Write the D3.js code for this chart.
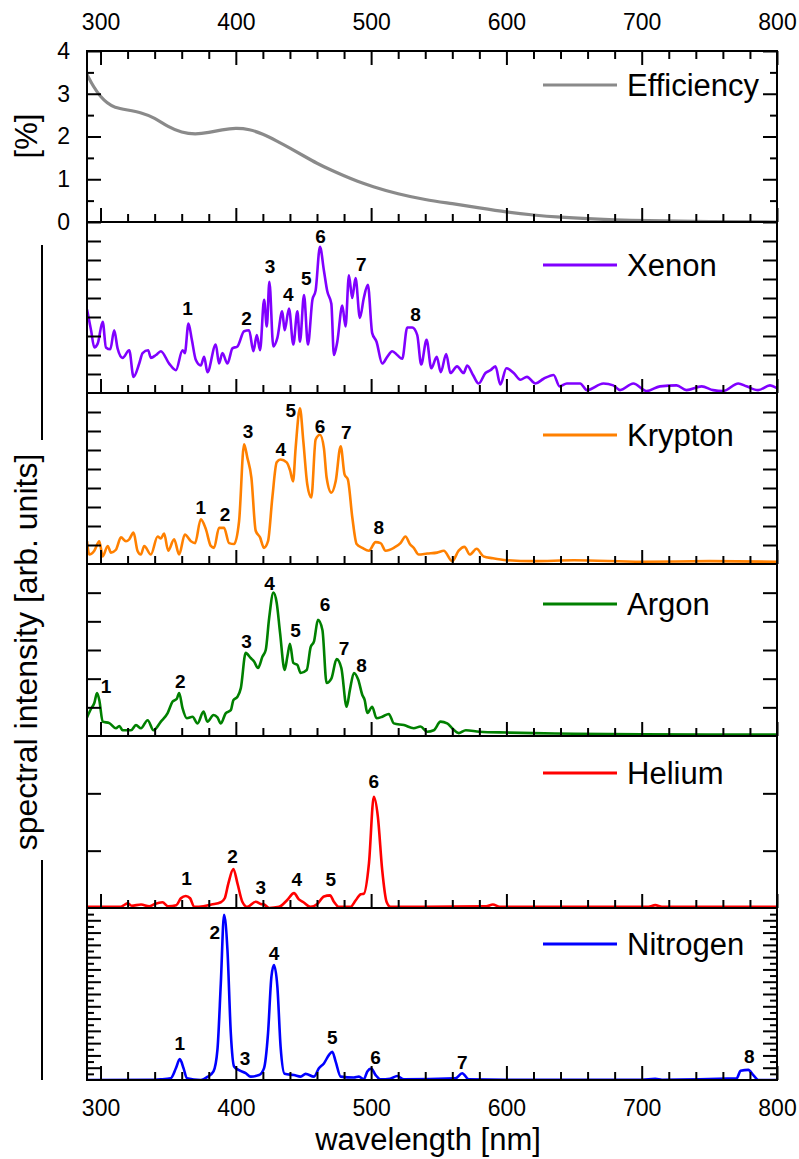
<!DOCTYPE html>
<html><head><meta charset="utf-8">
<script src="https://cdn.jsdelivr.net/npm/d3@7"></script>
<style>body{margin:0;background:#fff}svg{display:block}</style>
</head><body><svg id="c" width="799" height="1159"></svg>
<script>
// ---------------- data ----------------
const xMajorTicks = [300, 400, 500, 600, 700, 800];
const xMinorTicks = [320, 340, 360, 380, 420, 440, 460, 480, 520, 540, 560, 580, 620, 640, 660, 680, 720, 740, 760, 780];
const effMajorTicks = [0, 1, 2, 3, 4];
const effMinorTicks = [0.5, 1.5, 2.5, 3.5];
const seriesNames = ["Efficiency", "Xenon", "Krypton", "Argon", "Helium", "Nitrogen"];

const efficiency = [[290,3.45],[295,3.15],[300,2.93],[305,2.78],[310,2.68],[320,2.62],[330,2.56],[340,2.44],[350,2.22],[360,2.09],[370,2.05],[380,2.09],[390,2.16],[400,2.2],[410,2.17],[420,2.06],[430,1.9],[440,1.73],[450,1.55],[460,1.37],[470,1.22],[480,1.08],[490,0.95],[500,0.84],[520,0.65],[540,0.52],[560,0.43],[580,0.33],[600,0.23],[620,0.16],[640,0.11],[660,0.075],[680,0.05],[700,0.03],[750,0.01],[800,0]];

const xenon = [[290,4.4],[293,3.3],[295.4,2.4],[297.9,2.6],[301.6,3.75],[304,2.4],[307.2,2.3],[310.1,3.3],[312.6,2.35],[316.3,1.85],[321.2,2.25],[324.4,0.85],[328.6,1.55],[331.1,2.1],[335.2,2.25],[337.2,1.85],[341,2.0],[344.6,2.2],[350.7,1.55],[355.7,1.2],[360.6,2.25],[362.3,2.1],[365,3.65],[367.5,2.8],[370.4,1.75],[374.1,1.45],[376.6,1.9],[379,1.1],[385.2,2.55],[387.6,1.55],[390.1,2.1],[393.8,1.55],[397.5,2.35],[401.2,2.45],[406.1,3.25],[409.8,3.3],[413,2.2],[415.5,3.05],[417.9,2.25],[420.9,4.9],[422.9,3.5],[424.8,5.85],[427.7,2.45],[430.7,2.9],[434.3,4.3],[436.1,3.3],[439.3,4.45],[442.5,2.55],[445.5,4.3],[447.4,2.7],[450.4,5.15],[453.3,2.55],[456.6,4.9],[459,5.4],[462.2,7.7],[465.1,6.45],[467.6,5.35],[470.6,4.7],[472.5,2.0],[475,2.7],[478.7,4.6],[481.1,3.5],[483.6,6.2],[486,5.0],[488.5,6.05],[491.7,3.95],[494.6,5.0],[497.6,5.7],[500.8,3.15],[504,2.7],[508.2,1.55],[511.9,1.9],[515.6,2.2],[519.3,2.0],[523,1.8],[526.7,3.45],[530.4,3.45],[534.1,3.05],[537,1.5],[541,2.8],[544.5,1.3],[548.5,1.9],[551.5,1.1],[555.5,2.05],[558.6,1.05],[563.5,1.4],[568.4,1.05],[571,1.45],[575.3,0.95],[579.5,0.5],[584.5,1.05],[588.2,1.2],[591.9,1.4],[595.5,0.45],[600,1.3],[605.4,1.05],[610.3,0.7],[615.2,0.85],[621.4,0.5],[627.5,0.75],[634.9,0.95],[639.3,0.35],[644.7,0.5],[654.5,0.5],[659.5,0.15],[671.7,0.5],[679,0.4],[684,0.15],[693.8,0.5],[703.6,0.1],[713.5,0.35],[725.8,0.4],[733.1,0.15],[744.3,0.35],[752.8,0.15],[760.2,0.1],[771.4,0.5],[777.4,0.35],[786,0.15],[794.8,0.4],[800,0.25]];

const krypton = [[290,1.2],[291.7,0.5],[295.4,0.7],[299.1,1.2],[301.6,0.4],[305.3,0.95],[307.7,0.6],[311.4,0.75],[315.1,1.4],[318.8,1.2],[321.2,1.3],[324.4,1.65],[327.3,0.7],[329.8,0.5],[332.3,0.95],[337.2,0.5],[342.2,1.45],[344.6,1.35],[347,1.6],[350,0.7],[354.4,1.3],[358.1,0.5],[362.3,1.55],[366.8,1.2],[369.9,1.1],[374.1,2.35],[377.8,1.85],[381.5,0.95],[383.9,0.85],[387.6,1.9],[391.3,1.9],[395,1.1],[398.7,1.05],[402.4,2.25],[406.1,6.3],[408.5,5.6],[411.5,4.55],[414.7,1.75],[417.9,1.4],[420.8,0.85],[423.8,1.2],[427,3.5],[430.2,5.35],[433.1,5.5],[437.6,5.35],[440,4.95],[442.3,4.35],[444.2,6.1],[447.4,8.2],[449.9,6.45],[452.8,4.2],[455.8,3.5],[459,6.55],[462.2,6.8],[465.1,6.1],[467.1,4.55],[470.6,3.75],[473.8,4.35],[477.5,6.2],[480.4,4.7],[482.8,4.45],[486.1,2.45],[489.3,1.05],[493.5,0.85],[498.4,0.7],[503.3,1.15],[507,1.1],[510.7,0.7],[516.8,0.85],[521.7,1.1],[525.4,1.45],[528.6,1.05],[531.5,0.85],[535.2,0.5],[541.4,0.55],[548.8,0.6],[553.7,0.7],[559.9,0.15],[564.7,0.7],[569,0.9],[573,0.5],[578,0.8],[583,0.4],[590,0.3],[600,0.2],[620,0.15],[650,0.2],[700,0.12],[750,0.15],[800,0.12]];

const argon = [[290,0.65],[293,0.95],[295.4,1.15],[297.4,1.5],[299.1,1.25],[301.6,0.5],[306.5,0.45],[311.4,0.27],[313.9,0.35],[316.3,0.2],[322.5,0.2],[326.2,0.38],[329.9,0.27],[334.8,0.55],[339.2,0.2],[344.6,0.5],[349.6,0.8],[353.3,1.2],[356.4,1.3],[358.1,1.5],[360.6,0.97],[363.8,0.62],[368,0.67],[371.7,0.44],[376.1,0.85],[379,0.5],[383.5,0.73],[386.4,0.65],[388.9,0.44],[392.6,0.8],[396.3,0.9],[398.2,1.25],[401.2,1.37],[403.7,1.67],[407.3,2.9],[411,2.72],[413.5,2.6],[416.4,2.37],[419.7,2.77],[422.1,3.0],[424.6,4.1],[427.8,5.0],[430.2,4.65],[432.7,3.6],[436.1,2.3],[438.1,2.77],[440,3.22],[442.5,2.55],[445.5,2.48],[447.9,2.2],[452.4,2.3],[455.3,3.1],[457.8,3.3],[460.7,4.05],[464,3.7],[467.1,1.85],[470.6,2.0],[474.5,2.68],[478,2.37],[481.9,1.02],[484.3,1.6],[487.3,2.2],[490.5,1.96],[493.5,1.43],[495.2,1.26],[497.2,0.8],[500.8,1.02],[504,0.62],[508.2,0.67],[513.1,0.77],[516.8,0.44],[524.2,0.38],[531.5,0.27],[536.5,0.33],[541.4,0.15],[546.3,0.2],[551.3,0.5],[556.2,0.44],[559.9,0.27],[564.7,0.1],[570,0.2],[580,0.15],[600,0.12],[620,0.1],[650,0.08],[700,0.06],[750,0.05],[800,0.05]];

const helium = [[290,0.02],[315,0.02],[318,0.06],[320,0.08],[323,0.04],[330,0.06],[336,0.03],[340,0.07],[345.8,0.1],[350,0.03],[356,0.05],[359.4,0.17],[363,0.21],[366.2,0.17],[369.2,0.02],[376,0.03],[382,0.06],[388.9,0.1],[391.8,0.17],[394.5,0.43],[398.2,0.68],[401.2,0.43],[404.8,0.11],[408.5,0.02],[414.7,0.11],[418.4,0.07],[421,0.06],[424.6,0.0],[432,0.02],[438,0.14],[443,0.26],[446.6,0.15],[450,0.1],[455.3,0.02],[460.2,0.07],[465.1,0.2],[469.6,0.22],[472.5,0.11],[476.2,0.02],[484.8,0.02],[488.5,0.13],[492.3,0.24],[494.6,0.25],[498.4,0.78],[502,1.94],[505,1.59],[508.2,0.66],[511.4,0.11],[514.4,0.02],[540,0.02],[585,0.03],[590,0.06],[595,0.02],[660,0.02],[705,0.02],[710,0.05],[715,0.02],[800,0.02]];

const nitrogen = [[290,0],[340,0.05],[344.6,0.1],[352,0.3],[355.7,1.9],[358.6,3.4],[361.4,1.9],[363.8,0.3],[374.1,0],[379,0.5],[383.5,1.4],[386.4,4.9],[388.9,15.7],[391.3,26.9],[393.8,21.2],[396.3,7.6],[398.7,2.2],[402.4,1.6],[407.3,1.1],[411,0.55],[417.2,0.8],[420.8,1.9],[423.8,7.6],[426.3,16.8],[428.2,18.7],[430.7,15.2],[433.1,5.4],[436.1,1.0],[443,0.8],[447.9,0.55],[451.6,1.0],[457.8,0.55],[461.4,1.9],[465.1,2.7],[468.9,4.1],[471.3,4.6],[473.8,3.0],[477.5,0.55],[487.3,0.4],[491,0.55],[494.6,0.1],[497.2,1.4],[500.1,1.85],[503.3,0.8],[507,0.1],[514,0.2],[519.3,0.65],[524.2,0.1],[562.3,0.27],[567.3,1.1],[572.2,0.1],[600,0.05],[700,0.05],[710,0.2],[715,0.05],[770.2,0.27],[773.1,1.5],[778.8,1.65],[782.5,0.8],[786.2,0],[800,0]];

// peak label anchor points [wavelength, value]; label text = index + 1
const xenonPeaks = [[364.3,4.1],[407.9,3.58],[425.3,6.3],[438.8,4.84],[452.1,5.68],[462.7,7.88],[492.7,6.42],[532.8,3.79]];
const kryptonPeaks = [[374.1,2.62],[392.1,2.26],[409,6.65],[433.2,5.68],[440.6,7.74],[462.2,6.91],[481.7,6.56],[505.7,1.6]];
const argonPeaks = [[304,1.49],[358.9,1.69],[407.9,3.07],[425,5.08],[444.2,3.45],[465.9,4.35],[480,2.81],[493,2.25]];
const heliumPeaks = [[363.6,0.4],[397.5,0.79],[418.4,0.24],[445,0.38],[470.1,0.38],[502,2.1]];
const nitrogenPeaks = [[358.6,4.89],[384.5,22.96],[406.8,2.44],[428.2,19.5],[471.3,5.86],[503.3,2.6],[567.3,1.74],[779.5,2.82]];

// ---------------- layout & style ----------------
const FONT = "'Liberation Sans', Arial, Helvetica, sans-serif";
const L = 87, R = 777;
const tops = [51, 222, 393, 564, 736, 908], BOTTOM = 1080;
const panels = [
  {data: efficiency, color: "#8a8a8a", ymax: 4, peaks: null, legY: 85},
  {data: xenon, color: "#8000ff", ymax: 9, peaks: xenonPeaks, legY: 265},
  {data: krypton, color: "#ff8000", ymax: 9, peaks: kryptonPeaks, legY: 435},
  {data: argon, color: "#008000", ymax: 6, peaks: argonPeaks, legY: 604},
  {data: helium, color: "#ff0000", ymax: 3, peaks: heliumPeaks, legY: 773},
  {data: nitrogen, color: "#0000ff", ymax: 28, peaks: nitrogenPeaks, legY: 944}
];

const svg = d3.select("#c");
const x = d3.scaleLinear().domain([290, 800]).range([L, R]);
const defs = svg.append("defs");

panels.forEach((p, i) => {
  const top = tops[i], bot = i < 5 ? tops[i + 1] : BOTTOM;
  const y = d3.scaleLinear().domain([0, p.ymax]).range([bot, top]);
  const g = svg.append("g");
  defs.append("clipPath").attr("id", "clip" + i)
    .append("rect").attr("x", L).attr("y", top).attr("width", R - L).attr("height", bot - top);

  const line = d3.line().x(d => x(d[0])).y(d => y(d[1]))
    .curve(i === 0 ? d3.curveBasis : d3.curveMonotoneX);
  g.append("path").datum(p.data).attr("d", line)
    .attr("clip-path", `url(#clip${i})`)
    .attr("fill", "none").attr("stroke", p.color)
    .attr("stroke-width", i === 0 ? 3.2 : 2.6).attr("stroke-linejoin", "round");

  let majV, minV;
  if (i === 0) { majV = effMajorTicks; minV = effMinorTicks; }
  else if (i === 5) { majV = d3.range(2, 28, 2); minV = d3.range(1, 28, 2); }
  else { majV = d3.range(1, p.ymax); minV = []; }
  const axL = g.append("g").attr("transform", `translate(${L},0)`)
    .call(d3.axisLeft(y).tickValues(majV).tickSizeInner(-14).tickSizeOuter(0).tickPadding(17)
      .tickFormat(i === 0 ? d => String(d) : () => ""));
  const axLm = g.append("g").attr("transform", `translate(${L},0)`)
    .call(d3.axisLeft(y).tickValues(minV).tickSizeInner(-7).tickSizeOuter(0).tickFormat(() => ""));
  const axR = g.append("g").attr("transform", `translate(${R},0)`)
    .call(d3.axisRight(y).tickValues(majV).tickSizeInner(-14).tickSizeOuter(0).tickFormat(() => ""));
  const axRm = g.append("g").attr("transform", `translate(${R},0)`)
    .call(d3.axisRight(y).tickValues(minV).tickSizeInner(-7).tickSizeOuter(0).tickFormat(() => ""));

  const axB = g.append("g").attr("transform", `translate(0,${bot})`)
    .call(d3.axisBottom(x).tickValues(xMajorTicks).tickSizeInner(-14).tickSizeOuter(0).tickPadding(20)
      .tickFormat(i === 5 ? d => String(d) : () => ""));
  const axBm = g.append("g").attr("transform", `translate(0,${bot})`)
    .call(d3.axisBottom(x).tickValues(xMinorTicks).tickSizeInner(-8).tickSizeOuter(0).tickFormat(() => ""));
  const axes = [axL, axLm, axR, axRm, axB, axBm];
  if (i === 0) {
    axes.push(g.append("g").attr("transform", `translate(0,${top})`)
      .call(d3.axisTop(x).tickValues(xMajorTicks).tickSizeInner(-14).tickSizeOuter(0).tickPadding(21)
        .tickFormat(d => String(d))));
    axes.push(g.append("g").attr("transform", `translate(0,${top})`)
      .call(d3.axisTop(x).tickValues(xMinorTicks).tickSizeInner(-8).tickSizeOuter(0).tickFormat(() => "")));
  }
  axes.forEach(a => {
    a.select(".domain").remove();
    a.selectAll("line").attr("stroke", "#000").attr("stroke-width", 2);
    a.selectAll("text").attr("font-family", FONT).attr("font-size", 23).attr("fill", "#000");
  });

  g.append("rect").attr("x", L).attr("y", top).attr("width", R - L).attr("height", bot - top)
    .attr("fill", "none").attr("stroke", "#000").attr("stroke-width", 2);

  if (p.peaks) {
    g.selectAll("text.pk").data(p.peaks).join("text").attr("class", "pk")
      .attr("x", d => x(d[0])).attr("y", d => y(d[1]))
      .attr("text-anchor", "middle").attr("font-family", FONT).attr("font-weight", "bold")
      .attr("font-size", 19).attr("fill", "#000").text((d, k) => k + 1);
  }

  g.append("line").attr("x1", 543).attr("x2", 617).attr("y1", p.legY).attr("y2", p.legY)
    .attr("stroke", p.color).attr("stroke-width", 3.2);
  g.append("text").attr("x", 627).attr("y", p.legY + 11)
    .attr("font-family", FONT).attr("font-size", 31).attr("fill", "#000").text(seriesNames[i]);
});

svg.append("text").attr("transform", "translate(37,136) rotate(-90)").attr("text-anchor", "middle")
  .attr("font-family", FONT).attr("font-size", 31).text("[%]");
svg.append("text").attr("transform", "translate(37,652) rotate(-90)").attr("text-anchor", "middle")
  .attr("font-family", FONT).attr("font-size", 32).text("spectral intensity [arb. units]");
svg.append("line").attr("x1", 42).attr("x2", 42).attr("y1", 245).attr("y2", 440).attr("stroke", "#000").attr("stroke-width", 2);
svg.append("line").attr("x1", 42).attr("x2", 42).attr("y1", 860).attr("y2", 1080).attr("stroke", "#000").attr("stroke-width", 2);
svg.append("text").attr("x", 428).attr("y", 1150).attr("text-anchor", "middle")
  .attr("font-family", FONT).attr("font-size", 31).text("wavelength [nm]");
</script></body></html>
